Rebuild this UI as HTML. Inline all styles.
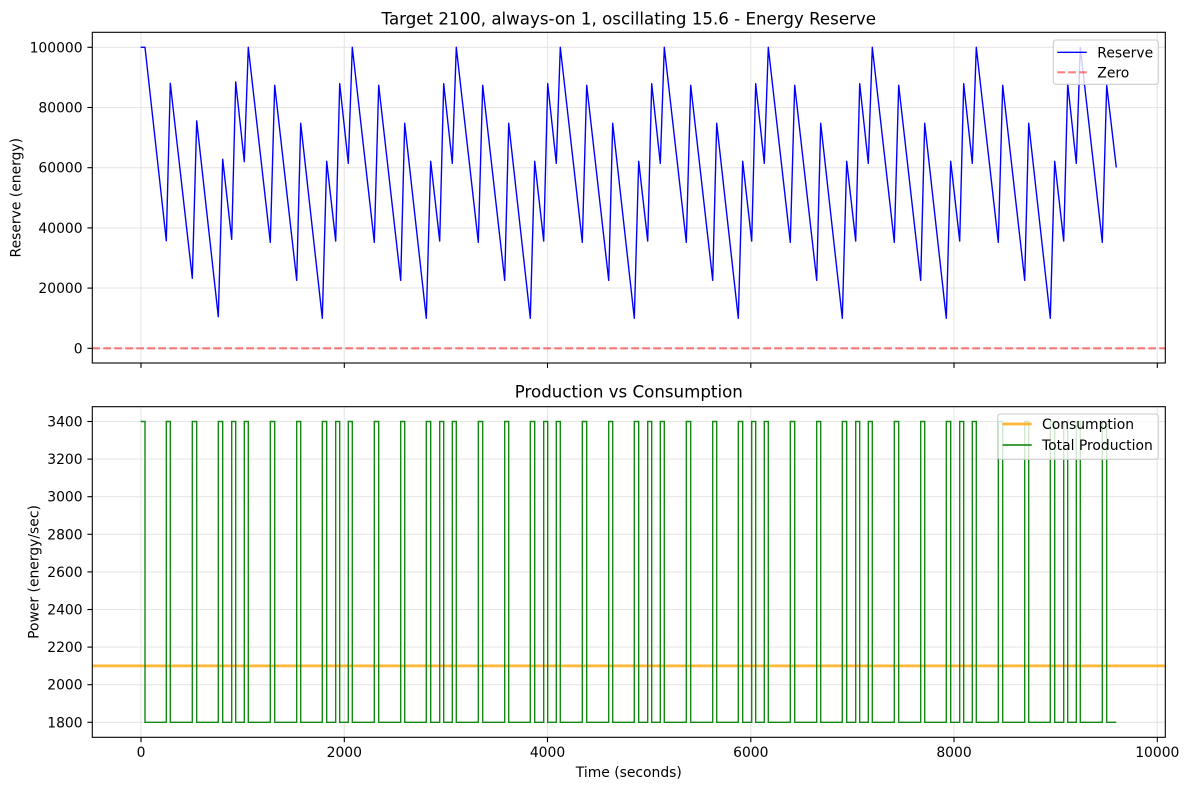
<!DOCTYPE html>
<html>
<head>
<meta charset="utf-8">
<style>
html,body{margin:0;padding:0;background:#fff;}
svg{display:block;font-family:"DejaVu Sans","Liberation Sans",sans-serif;}
</style>
</head>
<body>
<svg width="1188" height="790" viewBox="0 0 1188 790" xmlns="http://www.w3.org/2000/svg">
<defs>
<clipPath id="c1"><rect x="92.3" y="32.3" width="1073" height="330.7"/></clipPath>
<clipPath id="c2"><rect x="92.3" y="406.7" width="1073" height="330.6"/></clipPath>
</defs>
<rect width="1188" height="790" fill="#fff"/>

<!-- ===== TOP AXES ===== -->
<g stroke="#e6e6e6" stroke-width="1.1">
<line x1="141" y1="32.3" x2="141" y2="363"/>
<line x1="344.3" y1="32.3" x2="344.3" y2="363"/>
<line x1="547.5" y1="32.3" x2="547.5" y2="363"/>
<line x1="750.8" y1="32.3" x2="750.8" y2="363"/>
<line x1="954" y1="32.3" x2="954" y2="363"/>
<line x1="1157.3" y1="32.3" x2="1157.3" y2="363"/>
<line x1="92.3" y1="348.3" x2="1165.3" y2="348.3"/>
<line x1="92.3" y1="288.1" x2="1165.3" y2="288.1"/>
<line x1="92.3" y1="227.9" x2="1165.3" y2="227.9"/>
<line x1="92.3" y1="167.7" x2="1165.3" y2="167.7"/>
<line x1="92.3" y1="107.5" x2="1165.3" y2="107.5"/>
<line x1="92.3" y1="47.3" x2="1165.3" y2="47.3"/>
</g>
<g clip-path="url(#c1)">
<line x1="92.3" y1="348.3" x2="1165.3" y2="348.3" stroke="#ff0000" stroke-opacity="0.5" stroke-width="2.08" stroke-dasharray="7.7,3.3"/>
<polyline fill="none" stroke="#0000ff" stroke-width="1.39" stroke-linejoin="round" points="
140.7,47.3 145,47.3 166.3,240.7 170.3,83.3 192.3,278.3 196.7,121 218.3,316.7 222.7,159.3 231.7,239.3 235.7,82 244.3,161.7 248.3,47.3
270.3,242.3 274.7,85.3 296.7,280.3 300.7,123.3 322.3,318.3 326.7,161.3 335.7,241 339.7,83.7 348.3,163.3 352.3,47.3
374.3,242.3 378.7,85.3 400.7,280.3 404.7,123.3 426.3,318.3 430.7,161.3 439.7,241 443.7,83.7 452.3,163.3 456.3,47.3
478.3,242.3 482.7,85.3 504.7,280.3 508.7,123.3 530.3,318.3 534.7,161.3 543.7,241 547.7,83.7 556.3,163.3 560.3,47.3
582.3,242.3 586.7,85.3 608.7,280.3 612.7,123.3 634.3,318.3 638.7,161.3 647.7,241 651.7,83.7 660.3,163.3 664.3,47.3
686.3,242.3 690.7,85.3 712.7,280.3 716.7,123.3 738.3,318.3 742.7,161.3 751.7,241 755.7,83.7 764.3,163.3 768.3,47.3
790.3,242.3 794.7,85.3 816.7,280.3 820.7,123.3 842.3,318.3 846.7,161.3 855.7,241 859.7,83.7 868.3,163.3 872.3,47.3
894.3,242.3 898.7,85.3 920.7,280.3 924.7,123.3 946.3,318.3 950.7,161.3 959.7,241 963.7,83.7 972.3,163.3 976.3,47.3
998.3,242.3 1002.7,85.3 1024.7,280.3 1028.7,123.3 1050.3,318.3 1054.7,161.3 1063.7,241 1067.7,83.7 1076.3,163.3 1080.3,47.3
1102.3,242.3 1106.7,85.3 1116.3,167.5"/>
</g>
<rect x="92.3" y="32.3" width="1073" height="330.7" fill="none" stroke="#000" stroke-width="1.1"/>
<g stroke="#000" stroke-width="1.1">
<line x1="141" y1="363" x2="141" y2="367.9"/>
<line x1="344.3" y1="363" x2="344.3" y2="367.9"/>
<line x1="547.5" y1="363" x2="547.5" y2="367.9"/>
<line x1="750.8" y1="363" x2="750.8" y2="367.9"/>
<line x1="954" y1="363" x2="954" y2="367.9"/>
<line x1="1157.3" y1="363" x2="1157.3" y2="367.9"/>
<line x1="87.4" y1="348.3" x2="92.3" y2="348.3"/>
<line x1="87.4" y1="288.1" x2="92.3" y2="288.1"/>
<line x1="87.4" y1="227.9" x2="92.3" y2="227.9"/>
<line x1="87.4" y1="167.7" x2="92.3" y2="167.7"/>
<line x1="87.4" y1="107.5" x2="92.3" y2="107.5"/>
<line x1="87.4" y1="47.3" x2="92.3" y2="47.3"/>
</g>
<g font-size="13.9" fill="#000" text-anchor="end">
<text x="82.6" y="353.3">0</text>
<text x="82.6" y="293.1">20000</text>
<text x="82.6" y="232.9">40000</text>
<text x="82.6" y="172.7">60000</text>
<text x="82.6" y="112.5">80000</text>
<text x="82.6" y="52.3">100000</text>
</g>
<text x="628.8" y="24.5" font-size="16.67" text-anchor="middle" fill="#000">Target 2100, always-on 1, oscillating 15.6 - Energy Reserve</text>
<text transform="translate(20.3,197.7) rotate(-90)" font-size="13.9" text-anchor="middle" fill="#000">Reserve (energy)</text>
<!-- legend 1 -->
<rect x="1053.3" y="40" width="105" height="44.3" rx="2.8" fill="#fff" fill-opacity="0.8" stroke="#cccccc" stroke-width="1.1"/>
<line x1="1057.3" y1="52.3" x2="1086.7" y2="52.3" stroke="#0000ff" stroke-width="1.39"/>
<line x1="1057.3" y1="72.3" x2="1086.7" y2="72.3" stroke="#ff0000" stroke-opacity="0.5" stroke-width="2.08" stroke-dasharray="7.7,3.3"/>
<text x="1097.3" y="57.3" font-size="13.9" fill="#000">Reserve</text>
<text x="1097.3" y="77.3" font-size="13.9" fill="#000">Zero</text>

<!-- ===== BOTTOM AXES ===== -->
<g stroke="#e6e6e6" stroke-width="1.1">
<line x1="141" y1="406.7" x2="141" y2="737.3"/>
<line x1="344.3" y1="406.7" x2="344.3" y2="737.3"/>
<line x1="547.5" y1="406.7" x2="547.5" y2="737.3"/>
<line x1="750.8" y1="406.7" x2="750.8" y2="737.3"/>
<line x1="954" y1="406.7" x2="954" y2="737.3"/>
<line x1="1157.3" y1="406.7" x2="1157.3" y2="737.3"/>
<line x1="92.3" y1="722.3" x2="1165.3" y2="722.3"/>
<line x1="92.3" y1="684.7" x2="1165.3" y2="684.7"/>
<line x1="92.3" y1="647.1" x2="1165.3" y2="647.1"/>
<line x1="92.3" y1="609.5" x2="1165.3" y2="609.5"/>
<line x1="92.3" y1="571.9" x2="1165.3" y2="571.9"/>
<line x1="92.3" y1="534.3" x2="1165.3" y2="534.3"/>
<line x1="92.3" y1="496.7" x2="1165.3" y2="496.7"/>
<line x1="92.3" y1="459.1" x2="1165.3" y2="459.1"/>
<line x1="92.3" y1="421.5" x2="1165.3" y2="421.5"/>
</g>
<g clip-path="url(#c2)">
<line x1="92.3" y1="665.9" x2="1165.3" y2="665.9" stroke="#ffa500" stroke-opacity="0.8" stroke-width="2.78"/>
<path fill="none" stroke="#008000" stroke-opacity="0.92" stroke-width="1.39" stroke-linejoin="miter" d="M140.7,421.5 H145 V722.3
H166.3 V421.5 H170.3 V722.3 H192.3 V421.5 H196.7 V722.3 H218.3 V421.5 H222.7 V722.3 H231.7 V421.5 H235.7 V722.3 H244.3 V421.5 H248.3 V722.3
H270.3 V421.5 H274.7 V722.3 H296.7 V421.5 H300.7 V722.3 H322.3 V421.5 H326.7 V722.3 H335.7 V421.5 H339.7 V722.3 H348.3 V421.5 H352.3 V722.3
H374.3 V421.5 H378.7 V722.3 H400.7 V421.5 H404.7 V722.3 H426.3 V421.5 H430.7 V722.3 H439.7 V421.5 H443.7 V722.3 H452.3 V421.5 H456.3 V722.3
H478.3 V421.5 H482.7 V722.3 H504.7 V421.5 H508.7 V722.3 H530.3 V421.5 H534.7 V722.3 H543.7 V421.5 H547.7 V722.3 H556.3 V421.5 H560.3 V722.3
H582.3 V421.5 H586.7 V722.3 H608.7 V421.5 H612.7 V722.3 H634.3 V421.5 H638.7 V722.3 H647.7 V421.5 H651.7 V722.3 H660.3 V421.5 H664.3 V722.3
H686.3 V421.5 H690.7 V722.3 H712.7 V421.5 H716.7 V722.3 H738.3 V421.5 H742.7 V722.3 H751.7 V421.5 H755.7 V722.3 H764.3 V421.5 H768.3 V722.3
H790.3 V421.5 H794.7 V722.3 H816.7 V421.5 H820.7 V722.3 H842.3 V421.5 H846.7 V722.3 H855.7 V421.5 H859.7 V722.3 H868.3 V421.5 H872.3 V722.3
H894.3 V421.5 H898.7 V722.3 H920.7 V421.5 H924.7 V722.3 H946.3 V421.5 H950.7 V722.3 H959.7 V421.5 H963.7 V722.3 H972.3 V421.5 H976.3 V722.3
H998.3 V421.5 H1002.7 V722.3 H1024.7 V421.5 H1028.7 V722.3 H1050.3 V421.5 H1054.7 V722.3 H1063.7 V421.5 H1067.7 V722.3 H1076.3 V421.5 H1080.3 V722.3
H1102.3 V421.5 H1106.7 V722.3 H1116.3"/>
</g>
<rect x="92.3" y="406.7" width="1073" height="330.6" fill="none" stroke="#000" stroke-width="1.1"/>
<g stroke="#000" stroke-width="1.1">
<line x1="141" y1="737.3" x2="141" y2="742.2"/>
<line x1="344.3" y1="737.3" x2="344.3" y2="742.2"/>
<line x1="547.5" y1="737.3" x2="547.5" y2="742.2"/>
<line x1="750.8" y1="737.3" x2="750.8" y2="742.2"/>
<line x1="954" y1="737.3" x2="954" y2="742.2"/>
<line x1="1157.3" y1="737.3" x2="1157.3" y2="742.2"/>
<line x1="87.4" y1="722.3" x2="92.3" y2="722.3"/>
<line x1="87.4" y1="684.7" x2="92.3" y2="684.7"/>
<line x1="87.4" y1="647.1" x2="92.3" y2="647.1"/>
<line x1="87.4" y1="609.5" x2="92.3" y2="609.5"/>
<line x1="87.4" y1="571.9" x2="92.3" y2="571.9"/>
<line x1="87.4" y1="534.3" x2="92.3" y2="534.3"/>
<line x1="87.4" y1="496.7" x2="92.3" y2="496.7"/>
<line x1="87.4" y1="459.1" x2="92.3" y2="459.1"/>
<line x1="87.4" y1="421.5" x2="92.3" y2="421.5"/>
</g>
<g font-size="13.9" fill="#000" text-anchor="end">
<text x="82.6" y="727.3">1800</text>
<text x="82.6" y="689.7">2000</text>
<text x="82.6" y="652.1">2200</text>
<text x="82.6" y="614.5">2400</text>
<text x="82.6" y="576.9">2600</text>
<text x="82.6" y="539.3">2800</text>
<text x="82.6" y="501.7">3000</text>
<text x="82.6" y="464.1">3200</text>
<text x="82.6" y="426.5">3400</text>
</g>
<g font-size="13.9" fill="#000" text-anchor="middle">
<text x="141" y="757">0</text>
<text x="344.3" y="757">2000</text>
<text x="547.5" y="757">4000</text>
<text x="750.8" y="757">6000</text>
<text x="954" y="757">8000</text>
<text x="1157.3" y="757">10000</text>
</g>
<text x="628.8" y="777" font-size="13.9" text-anchor="middle" fill="#000">Time (seconds)</text>
<text x="628.8" y="397.5" font-size="16.67" text-anchor="middle" fill="#000">Production vs Consumption</text>
<text transform="translate(38.4,572) rotate(-90)" font-size="13.9" text-anchor="middle" fill="#000">Power (energy/sec)</text>
<!-- legend 2 -->
<rect x="997.7" y="414" width="160.6" height="45.3" rx="2.8" fill="#fff" fill-opacity="0.8" stroke="#cccccc" stroke-width="1.1"/>
<line x1="1002.7" y1="424" x2="1031.7" y2="424" stroke="#ffa500" stroke-opacity="0.8" stroke-width="2.78"/>
<line x1="1002.7" y1="445" x2="1031.7" y2="445" stroke="#008000" stroke-width="1.39"/>
<text x="1042" y="429" font-size="13.9" fill="#000">Consumption</text>
<text x="1042" y="450" font-size="13.9" fill="#000">Total Production</text>
</svg>
</body>
</html>
